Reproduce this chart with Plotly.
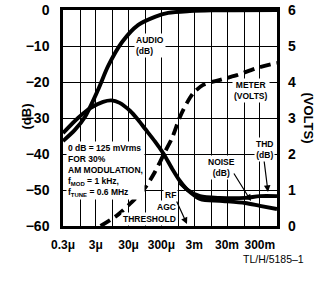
import numpy as np
import plotly.graph_objects as go

# ---- data ----
audio_x = [0.3e-6, 0.69e-6, 1.4e-6, 3.5e-6, 7.1e-6, 19e-6, 58e-6, 190e-6, 480e-6, 2.2e-3, 10e-3, 1.0]
audio_db = [-36.4, -33.3, -29.7, -22.2, -15.6, -8.9, -4.2, -1.9, -0.8, -0.3, -0.1, 0.0]

thd_x = [0.3e-6, 0.86e-6, 2.1e-6, 5e-6, 9e-6, 16e-6, 33e-6, 58e-6, 95e-6, 190e-6, 340e-6, 630e-6,
         1.1e-3, 1.9e-3, 4.5e-3, 18e-3, 106e-3, 300e-3, 1.0]
thd_db = [-34.2, -30.0, -27.2, -25.5, -25.1, -25.8, -28.0, -30.5, -33.0, -36.5, -39.8, -44.0,
          -47.5, -50.0, -51.7, -52.2, -52.2, -51.7, -51.7]

noise_x = [1.1e-3, 4.5e-3, 18e-3, 106e-3, 300e-3, 1.0]
noise_db = [-48.0, -52.5, -53.0, -53.6, -54.4, -55.3]

meter_x = [4.2e-6, 14e-6, 38e-6, 95e-6, 190e-6, 380e-6, 630e-6, 1.1e-3, 1.8e-3, 2.8e-3,
           5.6e-3, 18.5e-3, 60e-3, 245e-3, 1.0]
meter_v = [0.0, 0.31, 0.67, 1.06, 1.5, 2.05, 2.44, 3.03, 3.42, 3.69,
           3.92, 4.06, 4.19, 4.39, 4.53]

x_grid_vals = [0.3e-6, 1e-6, 3e-6, 10e-6, 30e-6, 100e-6, 300e-6, 1e-3, 3e-3, 10e-3, 30e-3, 100e-3, 300e-3, 1.0]
x_grid_text = ["0.3\u03bc", "", "3\u03bc", "", "30\u03bc", "", "300\u03bc", "", "3m", "", "30m", "", "300m", ""]
y_left_vals = [0, -10, -20, -30, -40, -50, -60]
y_left_text = ["0", "\u221210", "\u221220", "\u221230", "\u221240", "\u221250", "\u221260"]
y_right_vals = [0, 1, 2, 3, 4, 5, 6]

FONT = "Liberation Sans, Arial, sans-serif"

fig = go.Figure()
line_w = 3.9
spl = dict(shape="spline", smoothing=0.8)
fig.add_trace(go.Scatter(x=audio_x, y=audio_db, mode="lines", line=dict(color="black", width=line_w, **spl), hoverinfo="skip"))
fig.add_trace(go.Scatter(x=thd_x, y=thd_db, mode="lines", line=dict(color="black", width=line_w, **spl), hoverinfo="skip"))
fig.add_trace(go.Scatter(x=noise_x, y=noise_db, mode="lines", line=dict(color="black", width=line_w, **spl), hoverinfo="skip"))
fig.add_trace(go.Scatter(x=meter_x, y=meter_v, yaxis="y2", mode="lines", line=dict(color="black", width=line_w, dash="11px,6px", **spl), hoverinfo="skip"))

ytick_font = dict(family=FONT, size=14, color="black", weight="bold")
xtick_font = dict(family=FONT, size=12, color="black", weight="bold")
lab_font = dict(family=FONT, size=8.5, color="black", weight="bold")

fig.update_layout(
    width=333, height=282,
    margin=dict(l=63, r=56, t=10, b=56, autoexpand=False),
    paper_bgcolor="white", plot_bgcolor="white",
    showlegend=False,
    xaxis=dict(type="log", range=[np.log10(0.3e-6), 0], tickvals=x_grid_vals, ticktext=x_grid_text,
               showgrid=True, gridcolor="black", gridwidth=1.3, zeroline=False,
               showline=True, mirror=True, linecolor="black", linewidth=2.5, ticks="",
               tickangle=0, tickfont=xtick_font, ticklabelstandoff=6, automargin=False),
    yaxis=dict(range=[-60, 0], tickvals=y_left_vals, ticktext=y_left_text,
               showgrid=True, gridcolor="black", gridwidth=1.3, zeroline=False,
               showline=True, mirror=True, linecolor="black", linewidth=2.5, ticks="",
               tickfont=ytick_font, ticklabelstandoff=8, automargin=False),
    yaxis2=dict(range=[0, 6], tickvals=y_right_vals, overlaying="y", side="right",
                showgrid=False, zeroline=False, showline=False, ticks="",
                tickfont=ytick_font, ticklabelstandoff=10, automargin=False),
)

def px2paper(px, py):
    return (px - 63) / 214.0, (226 - py) / 216.0

anns = []
def label(text, px, py, xanchor="center", yanchor="middle", align="center", bg="white"):
    xp, yp = px2paper(px, py)
    anns.append(dict(text=text, x=xp, y=yp, xref="paper", yref="paper", xanchor=xanchor, yanchor=yanchor,
                     align=align, showarrow=False, font=lab_font, bgcolor=bg, borderpad=1))

def arrow(tx, ty, hx, hy):
    xp, yp = px2paper(hx, hy)
    anns.append(dict(text="", x=xp, y=yp, xref="paper", yref="paper", ax=tx - hx, ay=ty - hy,
                     showarrow=True, arrowhead=2, arrowsize=1.1, arrowwidth=1.2, arrowcolor="black"))

label("AUDIO<br>(dB)", 134, 45, xanchor="left", align="left")
label("METER<br>(VOLTS)", 251, 90)
label("0 dB = 125 mVrms<br>FOR 30%<br>AM MODULATION,<br>f<sub>MOD</sub> = 1 kHz,<br>f<sub>TUNE</sub> = 0.6 MHz",
      66, 141, xanchor="left", yanchor="top", align="left")
label("RF", 178, 195, xanchor="right")
label("AGC", 178, 207, xanchor="right")
label("THRESHOLD", 178, 219, xanchor="right")
label("NOISE<br>(dB)", 221, 167)
label("THD<br>(dB)", 264, 149)
arrow(176, 200, 187, 224)
arrow(233, 172, 251, 201)
arrow(264, 160, 268, 192)

# axis titles and figure id (given in figure pixels, converted to plot-paper coords)
def fig_label(text, fx, fy, **kw):
    xp, yp = px2paper(fx, fy)
    d = dict(text=text, x=xp, y=yp, xref="paper", yref="paper", showarrow=False)
    d.update(kw)
    anns.append(d)

fig_label("(dB)", 16, 117, textangle=-90, font=dict(family=FONT, size=13, color="black", weight="bold"))
fig_label("(VOLTS)", 318, 118, textangle=90, font=dict(family=FONT, size=13, color="black", weight="bold"))
fig_label("TL/H/5185\u20131", 306, 267, xanchor="right",
          font=dict(family="Liberation Sans, Arial, sans-serif", size=10.5, color="black"))

fig.update_layout(annotations=anns)
fig.write_html("out.html", config={"displayModeBar": False},
               post_script="document.body.style.margin='0px';document.body.style.overflow='hidden';")
